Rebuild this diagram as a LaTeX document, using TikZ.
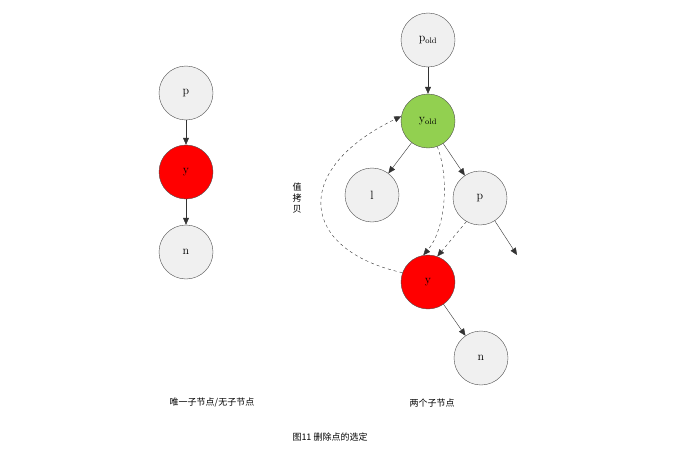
\documentclass[tikz,border=0pt]{standalone}
\usepackage{fontspec}
\newfontfamily\cjk{Noto Sans CJK SC}
\usetikzlibrary{arrows.meta}
\definecolor{nodegray}{RGB}{240,240,240}
\definecolor{oldgreen}{RGB}{146,208,80}
\tikzset{
  tnode/.style={circle, draw=black!70, fill=nodegray, minimum size=54pt, inner sep=0pt, font=\large},
  link/.style={-{Triangle[length=7pt,width=6pt]}, black!80},
  copyline/.style={-{Triangle[length=7pt,width=6pt]}, dashed, black!80}
}
\begin{document}
\begin{tikzpicture}[x=1pt,y=-1pt]
\useasboundingbox (0,0) rectangle (693,452);
% left tree
\node[tnode] (lp) at (186,93) {p};
\node[tnode, fill=red] (ly) at (186,172) {y};
\node[tnode] (ln) at (186,252) {n};
\draw[link] (lp) -- (ly);
\draw[link] (ly) -- (ln);
% right tree
\node[tnode] (pold) at (428,40) {p$_{\mathrm{old}}$};
\node[tnode, fill=oldgreen] (yold) at (428,121) {y$_{\mathrm{old}}$};
\node[tnode] (rl) at (372,195) {l};
\node[tnode] (rp) at (480,198) {p};
\node[tnode, fill=red] (ry) at (428,282) {y};
\node[tnode] (rn) at (481,358) {n};
\coordinate (pend) at (517,255);
\draw[link] (pold) -- (yold);
\draw[link] (yold) -- (rl);
\draw[link] (yold) -- (rp);
\draw[link] (rp) -- (pend);
\draw[link] (ry) -- (rn);
\draw[copyline] (yold.-70) .. controls (450,180) and (445,230) .. (ry.100);
\draw[copyline] (rp.-120) -- (ry.70);
\draw[copyline] (ry.160) .. controls (300,250) and (290,170) .. (yold.170);
\node[font=\cjk\small, align=center] (copy) at (297,198) {值\\拷\\贝};
% captions
\node[font=\cjk\small] (capl) at (212,403) {唯一子节点/无子节点};
\node[font=\cjk\small] (capr) at (432,403) {两个子节点};
\node[font=\cjk\small] (title) at (330,437) {图11 删除点的选定};
\end{tikzpicture}
\end{document}
